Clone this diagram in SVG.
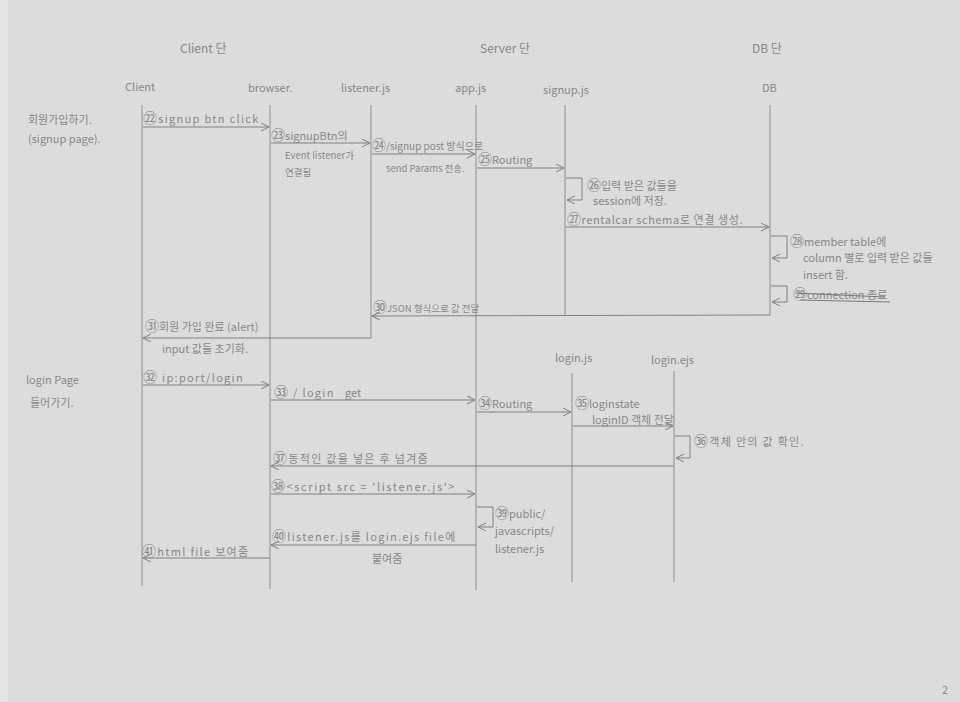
<svg xmlns="http://www.w3.org/2000/svg" width="960" height="702" viewBox="0 0 960 702">
<defs>
<marker id="ah" markerWidth="10" markerHeight="10" refX="8" refY="4" orient="auto" markerUnits="userSpaceOnUse"><path d="M0,0 L8,4 L0,8" fill="none" stroke="#7e7e7e" stroke-width="1"/></marker>
<style>
text{font-family:"Noto Sans CJK KR","Noto Sans",sans-serif;fill:#878787;font-size:11px}
.h{font-size:12px}
.n{font-size:14px}
.s{font-size:9.5px}
.w{letter-spacing:1.3px}
.life{stroke:#8e8e8e;stroke-width:1}
.msg{stroke:#808080;stroke-width:1;fill:none;marker-end:url(#ah)}
</style>
</defs>
<rect width="960" height="702" fill="#dddcdd"/>
<rect width="8" height="702" fill="#e5e5e5"/>

<g id="headers">
<text class="h" x="180" y="53">Client 단</text>
<text class="h" x="480" y="53">Server 단</text>
<text class="h" x="752" y="53">DB 단</text>
<text x="28" y="124">회원가입하기.</text>
<text x="28" y="143">(signup page).</text>
<text x="26" y="384">login Page</text>
<text x="30" y="407">들어가기.</text>
<text x="942" y="694">2</text>
</g>

<g id="client"><text x="125" y="91">Client</text><line class="life" x1="142" y1="105" x2="142" y2="586"/></g>
<g id="browser"><text x="248" y="92">browser.</text><line class="life" x1="270" y1="105" x2="270" y2="589"/></g>
<g id="listener"><text x="341" y="92">listener.js</text><line class="life" x1="371" y1="105" x2="371" y2="338"/></g>
<g id="app"><text x="455" y="92">app.js</text><line class="life" x1="476" y1="105" x2="476" y2="590"/></g>
<g id="signup"><text x="543" y="94">signup.js</text><line class="life" x1="565" y1="105" x2="565" y2="316"/></g>
<g id="db"><text x="762" y="92">DB</text><line class="life" x1="770" y1="105" x2="770" y2="315"/></g>
<g id="loginjs"><text x="555" y="362">login.js</text><line class="life" x1="572" y1="373" x2="572" y2="582"/></g>
<g id="loginejs"><text x="651" y="364">login.ejs</text><line class="life" x1="674" y1="371" x2="674" y2="582"/></g>

<g id="connectors">
<path class="msg" d="M143,127 L269,127"/>
<path class="msg" d="M271,143 L370,143"/>
<path class="msg" d="M372,154 L475,154"/>
<path class="msg" d="M477,168 L564,168"/>
<path class="msg" d="M566,178 L582,178 L582,200 L567,200"/>
<path class="msg" d="M566,227 L769,227"/>
<path class="msg" d="M771,236 L787,236 L787,258 L772,258"/>
<path class="msg" d="M771,286 L787,286 L787,302 L772,302"/>
<path class="msg" d="M770,315 L372,316"/>
<path class="msg" d="M371,338 L143,338"/>
<path class="msg" d="M143,385 L269,385"/>
<path class="msg" d="M271,400 L475,400"/>
<path class="msg" d="M477,412 L571,412"/>
<path class="msg" d="M573,426 L673,426"/>
<path class="msg" d="M675,436 L690,436 L690,458 L676,458"/>
<path class="msg" d="M674,466 L271,466"/>
<path class="msg" d="M271,494 L475,494"/>
<path class="msg" d="M477,507 L493,507 L493,527 L478,527"/>
<path class="msg" d="M476,545 L271,545"/>
<path class="msg" d="M270,558 L143,558"/>
</g>

<g id="labels">
<text class="w" x="143" y="123"><tspan class="n">㉒</tspan>signup btn click</text>
<text x="271" y="140"><tspan class="n">㉓</tspan>signupBtn의</text>
<text class="s" x="285" y="159">Event listener가</text>
<text class="s" x="285" y="176">연결됨</text>
<text x="372" y="150" style="font-size:10px"><tspan class="n">㉔</tspan>/signup post 방식으로</text>
<text class="s" x="386" y="172">send Params 전송.</text>
<text x="478" y="164"><tspan class="n">㉕</tspan>Routing</text>
<text x="587" y="190"><tspan class="n">㉖</tspan>입력 받은 값들을</text>
<text x="593" y="205">session에 저장.</text>
<text x="567" y="224" style="letter-spacing:0.6px"><tspan class="n">㉗</tspan>rentalcar schema로 연결 생성.</text>
<text x="790" y="246"><tspan class="n">㉘</tspan>member table에</text>
<text x="803" y="262">column 별로 입력 받은 값들</text>
<text x="803" y="279">insert 함.</text>
<text x="793" y="299"><tspan class="n">㉙</tspan>connection 종료</text>
<path d="M795,293 L885,297 M800,300 L890,302" stroke="#7a7a7a" stroke-width="1" fill="none"/>
<text class="s" x="373" y="312"><tspan class="n">㉚</tspan>JSON 형식으로 값 전달</text>
<text x="145" y="331"><tspan class="n">㉛</tspan>회원 가입 완료 (alert)</text>
<text x="162" y="353">input 값들 초기화.</text>
<text class="w" x="143" y="382"><tspan class="n">㉜</tspan> ip:port/login</text>
<text class="w" x="274" y="397"><tspan class="n">㉝</tspan> / login</text>
<text x="345" y="397">get</text>
<text x="478" y="408"><tspan class="n">㉞</tspan>Routing</text>
<text x="575" y="408"><tspan class="n">㉟</tspan>loginstate</text>
<text x="592" y="424">loginID 객체 전달</text>
<text class="w" x="694" y="446"><tspan class="n">㊱</tspan>객체 안의 값 확인.</text>
<text class="w" x="273" y="463"><tspan class="n">㊲</tspan>동적인 값을 넣은 후 넘겨줌</text>
<text x="271" y="491" style="letter-spacing:1.6px"><tspan class="n">㊳</tspan>&lt;script src = 'listener.js'&gt;</text>
<text x="495" y="518"><tspan class="n">㊴</tspan>public/</text>
<text x="495" y="535">javascripts/</text>
<text x="495" y="553">listener.js</text>
<text class="w" x="272" y="541"><tspan class="n">㊵</tspan>listener.js를 login.ejs file에</text>
<text x="372" y="563">붙여줌</text>
<text class="w" x="142" y="556"><tspan class="n">㊶</tspan>html file 보여줌</text>
</g>
</svg>
